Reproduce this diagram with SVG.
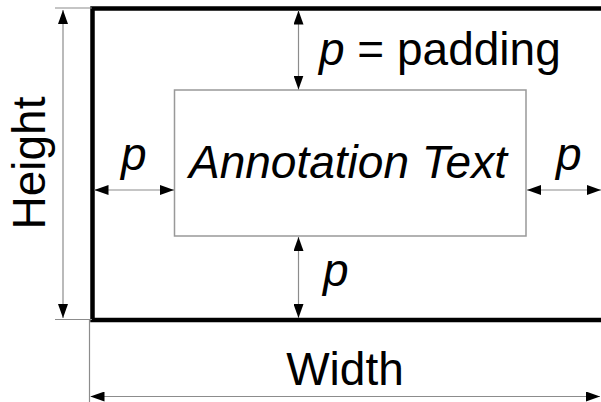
<svg xmlns="http://www.w3.org/2000/svg" width="601" height="402" viewBox="0 0 601 402">
<style>
.t{font-family:"Liberation Sans",Arial,sans-serif;font-size:46px;fill:#000}
.i{font-style:italic}
.dim{stroke:#8c8c8c;stroke-width:1.2;fill:none}
.ext{stroke:#8c8c8c;stroke-width:1.2;fill:none}
</style>
<defs>
<marker id="arr" viewBox="0 0 14 10" refX="14" refY="5" markerWidth="14" markerHeight="10" markerUnits="userSpaceOnUse" orient="auto-start-reverse">
<path d="M0,0 L14,5 L0,10 z" fill="#000"/>
</marker>
</defs>
<rect width="601" height="402" fill="#fff"/>
<g id="frame">
<rect x="92.5" y="8.5" width="530" height="311.5" fill="none" stroke="#000" stroke-width="4.5"/>
</g>
<g id="annotation">
<rect x="174.5" y="90" width="351.5" height="146" fill="none" stroke="#999" stroke-width="1.5"/>
<text class="t i" x="348" y="178" text-anchor="middle">Annotation Text</text>
</g>
<g id="connectors">
<line class="ext" x1="55" y1="8" x2="92" y2="8"/>
<line class="ext" x1="55" y1="319.5" x2="92" y2="319.5"/>
<line class="dim" x1="63" y1="10" x2="63" y2="318" marker-start="url(#arr)" marker-end="url(#arr)"/>
<line class="ext" x1="89.5" y1="320" x2="89.5" y2="402"/>
<line class="dim" x1="90.5" y1="396.5" x2="600" y2="396.5" marker-start="url(#arr)" marker-end="url(#arr)"/>
<line class="dim" x1="94.5" y1="190" x2="174" y2="190" marker-start="url(#arr)" marker-end="url(#arr)"/>
<line class="dim" x1="527" y1="190" x2="601" y2="190" marker-start="url(#arr)" marker-end="url(#arr)"/>
<line class="dim" x1="298.5" y1="10.5" x2="298.5" y2="89.5" marker-start="url(#arr)" marker-end="url(#arr)"/>
<line class="dim" x1="298.5" y1="237" x2="298.5" y2="318" marker-start="url(#arr)" marker-end="url(#arr)"/>
</g>
<g id="labels">
<text class="t" x="319" y="65"><tspan class="i">p</tspan> = padding</text>
<text class="t i" x="121" y="170">p</text>
<text class="t i" x="556" y="170">p</text>
<text class="t i" x="323" y="286">p</text>
<text class="t" transform="translate(45,163) rotate(-90)" text-anchor="middle">Height</text>
<text class="t" x="345" y="385" text-anchor="middle">Width</text>
</g>
</svg>
